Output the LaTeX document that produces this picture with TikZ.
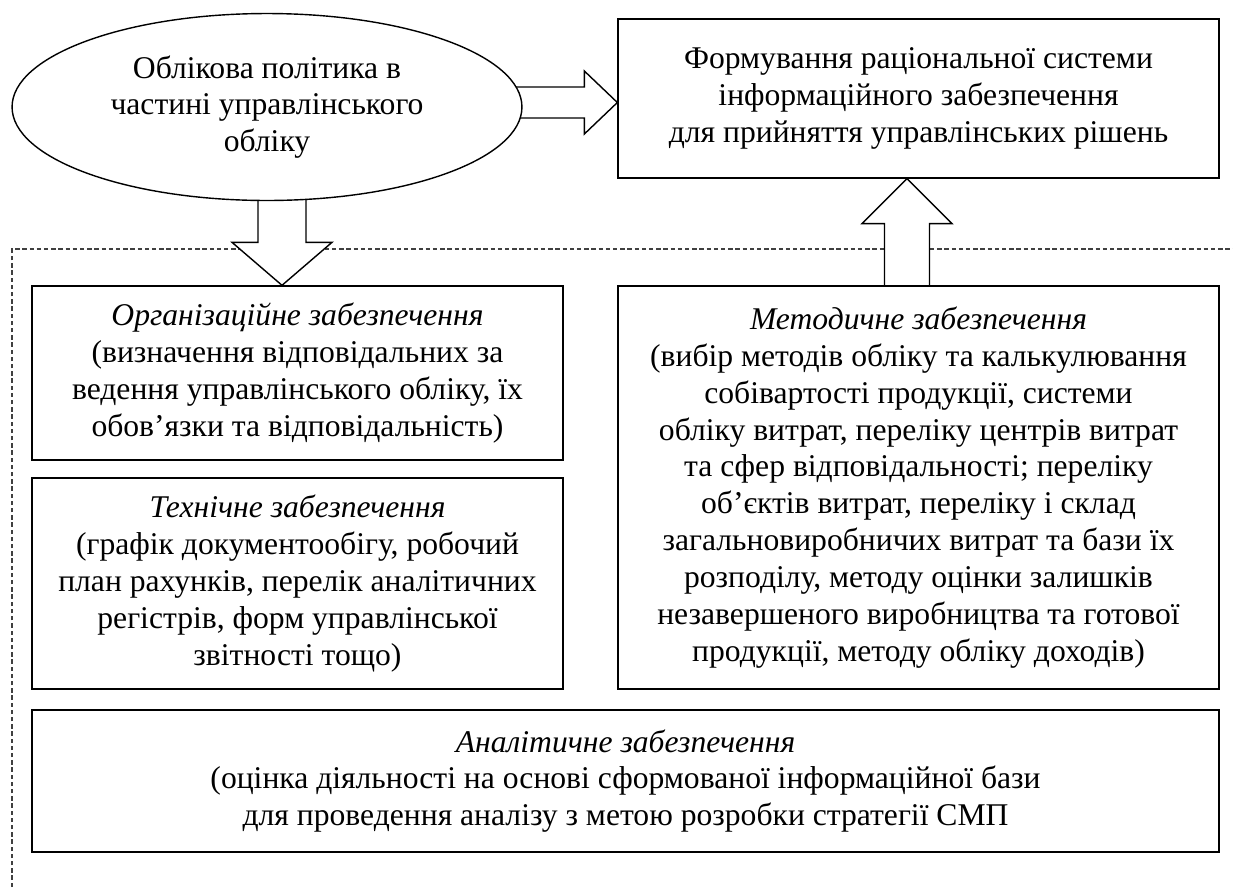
\documentclass[tikz,border=0pt]{standalone}
\usepackage{fontspec}
\setmainfont{Liberation Serif}
\usetikzlibrary{shapes.geometric}
\usetikzlibrary{calc}
\pgfdeclarelayer{background}
\pgfsetlayers{background,main}

\begin{document}
\begin{tikzpicture}[x = 0.02cm, y = -0.02cm]
	\tikzstyle{boxStyle} = [shape = rectangle, draw, fill = white, line width = 0.8pt, inner sep = 0pt, align = center, font = \fontsize{18}{21}\selectfont]
	\tikzstyle{ovalStyle} = [shape = ellipse, draw, fill = white, line width = 0.8pt, inner sep = 0pt, align = center, font = \fontsize{18}{21}\selectfont]
	\tikzstyle{hollowArrow} = [draw, fill = white, line width = 0.8pt, line join = miter]
	\tikzstyle{frameStyle} = [draw = black!75, line width = 0.6pt, dash pattern = on 2.5pt off 1.6pt]
	\useasboundingbox (0,0) rectangle (1233,887);
	\node[ovalStyle, minimum width = 10.2cm, minimum height = 3.74cm] (polityka) at (267,107) {Облікова політика в\\частині управлінського\\обліку};
	\node[boxStyle, minimum width = 12.02cm, minimum height = 3.18cm] (formuvannya) at (918.5,98.5) {Формування раціональної системи\\інформаційного забезпечення\\для прийняття управлінських рішень};
	\node[boxStyle, minimum width = 10.62cm, minimum height = 3.48cm] (orhan) at (297.5,373) {\textit{Організаційне забезпечення}\\(визначення відповідальних за\\ведення управлінського обліку, їх\\обов’язки та відповідальність)};
	\node[boxStyle, minimum width = 10.62cm, minimum height = 4.22cm] (tekhn) at (297.5,583.5) {\textit{Технічне забезпечення}\\(графік документообігу, робочий\\план рахунків, перелік аналітичних\\регістрів, форм управлінської\\звітності тощо)};
	\node[boxStyle, minimum width = 12.02cm, minimum height = 8.06cm] (metod) at (918.5,487.5) {\textit{Методичне забезпечення}\\(вибір методів обліку та калькулювання\\собівартості продукції, системи\\обліку витрат, переліку центрів витрат\\та сфер відповідальності; переліку\\об’єктів витрат, переліку і склад\\загальновиробничих витрат та бази їх\\розподілу, методу оцінки залишків\\незавершеного виробництва та готової\\продукції, методу обліку доходів)};
	\node[boxStyle, minimum width = 23.74cm, minimum height = 2.84cm] (anal) at (625.5,781) {\textit{Аналітичне забезпечення}\\(оцінка діяльності на основі сформованої інформаційної бази\\для проведення аналізу з метою розробки стратегії СМП};
	\begin{pgfonlayer}{background}
		\draw[frameStyle] (12,887) -- (12,249) -- (1233,249);
		% ellipse -> top box
		\coordinate (rTail) at ($(polityka.east)+(-10,-4.5)$);
		\coordinate (rTip) at (rTail -| formuvannya.west);
		\filldraw[hollowArrow] ($(rTail)+(0,-15.5)$) -- ($(rTip)+(-33,-15.5)$) -- ($(rTip)+(-33,-31.5)$) -- (rTip) -- ($(rTip)+(-33,31.5)$) -- ($(rTip)+(-33,15.5)$) -- ($(rTail)+(0,15.5)$);
		% ellipse -> organisational box
		\coordinate (dTip) at ($(orhan.north)+(-15.5,0)$);
		\coordinate (dTail) at ($(dTip |- polityka.south)+(0,-10)$);
		\filldraw[hollowArrow] ($(dTail)+(-24,0)$) -- ($(dTip)+(-24,-43)$) -- ($(dTip)+(-50,-43)$) -- (dTip) -- ($(dTip)+(50,-43)$) -- ($(dTip)+(24,-43)$) -- ($(dTail)+(24,0)$);
		% methodical box -> top box
		\coordinate (uTip) at ($(formuvannya.south)+(-11.5,0)$);
		\coordinate (uTail) at (uTip |- metod.north);
		\filldraw[hollowArrow] ($(uTail)+(-22.5,0)$) -- ($(uTip)+(-22.5,45)$) -- ($(uTip)+(-45,45)$) -- (uTip) -- ($(uTip)+(45,45)$) -- ($(uTip)+(22.5,45)$) -- ($(uTail)+(22.5,0)$);
	\end{pgfonlayer}
\end{tikzpicture}
\end{document}
